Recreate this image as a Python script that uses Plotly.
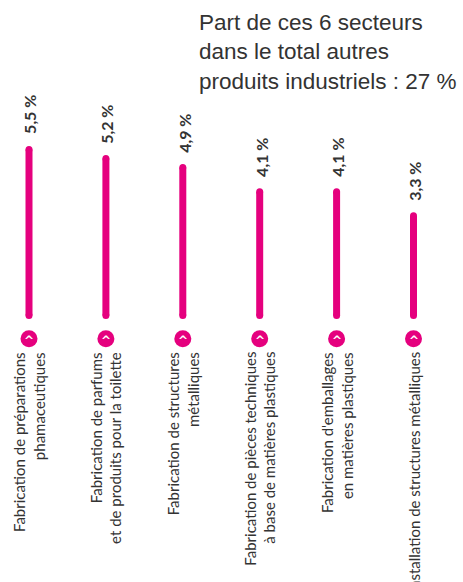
import plotly.graph_objects as go

categories = [
    "Fabrication de préparations<br>phamaceutiques",
    "Fabrication de parfums<br>et de produits pour la toilette",
    "Fabrication de structures<br>métalliques",
    "Fabrication de pièces techniques<br>à base de matières plastiques",
    "Fabrication d'emballages<br>en matières plastiques",
    "Installation de structures métalliques",
]
values = [5.5, 5.2, 4.9, 4.1, 4.1, 3.3]
value_labels = ["5,5 %", "5,2 %", "4,9 %", "4,1 %", "4,1 %", "3,3 %"]
title_text = "Part de ces 6 secteurs<br>dans le total autres<br>produits industriels : 27 %"

PINK = "#e5007e"
DARK = "#333333"
W, H = 463, 582
PX_X = 76.9      # pixels per category step
X0_PX = 29       # pixel of first category
PX_Y = 30.2      # pixels per percentage point
Y0_PX = 315.5    # pixel (from top) of value 0
ICON_Y = -0.77

xs = list(range(len(values)))

# bars as thick lines with round caps (markers at ends)
bx, by = [], []
for i, v in zip(xs, values):
    bx += [i, i, None]
    by += [0, v, None]

fig = go.Figure()
fig.add_trace(go.Scatter(
    x=bx, y=by, mode="lines+markers",
    line=dict(color=PINK, width=7),
    marker=dict(color=PINK, size=7),
    hoverinfo="skip", showlegend=False,
))
fig.add_trace(go.Scatter(
    x=xs, y=[ICON_Y] * len(xs), mode="markers",
    marker=dict(color=PINK, size=17),
    hoverinfo="skip", showlegend=False,
))

annotations = []
for i, v, lab in zip(xs, values, value_labels):
    annotations.append(dict(
        x=i, y=v, xref="x", yref="y", text=lab, textangle=-90,
        showarrow=False, yanchor="bottom", xanchor="center", yshift=13, xshift=1,
        font=dict(family="Lato, Arial", size=16, color=DARK, weight="bold"),
    ))
    annotations.append(dict(
        x=i, y=ICON_Y, xref="x", yref="y", text="^", showarrow=False,
        xanchor="center", yanchor="middle", yshift=-2,
        font=dict(family="DejaVu Sans", size=12, color="white", weight="bold"),
    ))
for i, c in zip(xs, categories):
    annotations.append(dict(
        x=i, y=1 - 350 / H, xref="x", yref="paper", text=c, textangle=-90,
        showarrow=False, yanchor="top", xanchor="center", align="right",
        font=dict(family="Lato", size=15, color=DARK),
    ))
annotations.append(dict(
    x=197 / W, y=1 - 8 / H, xref="paper", yref="paper", text=title_text,
    showarrow=False, xanchor="left", yanchor="top", align="left",
    font=dict(family="Liberation Sans, Arial", size=22.5, color=DARK),
))

fig.update_layout(
    width=W, height=H,
    margin=dict(l=0, r=0, t=0, b=0),
    paper_bgcolor="white", plot_bgcolor="white",
    xaxis=dict(range=[-X0_PX / PX_X, (W - X0_PX) / PX_X], visible=False, fixedrange=True),
    yaxis=dict(range=[(Y0_PX - H) / PX_Y, Y0_PX / PX_Y], visible=False, fixedrange=True),
    annotations=annotations,
    showlegend=False,
)
fig.write_html(
    "out.html",
    config={"displayModeBar": False},
    post_script="document.body.style.margin='0';document.body.style.overflow='hidden';",
)
